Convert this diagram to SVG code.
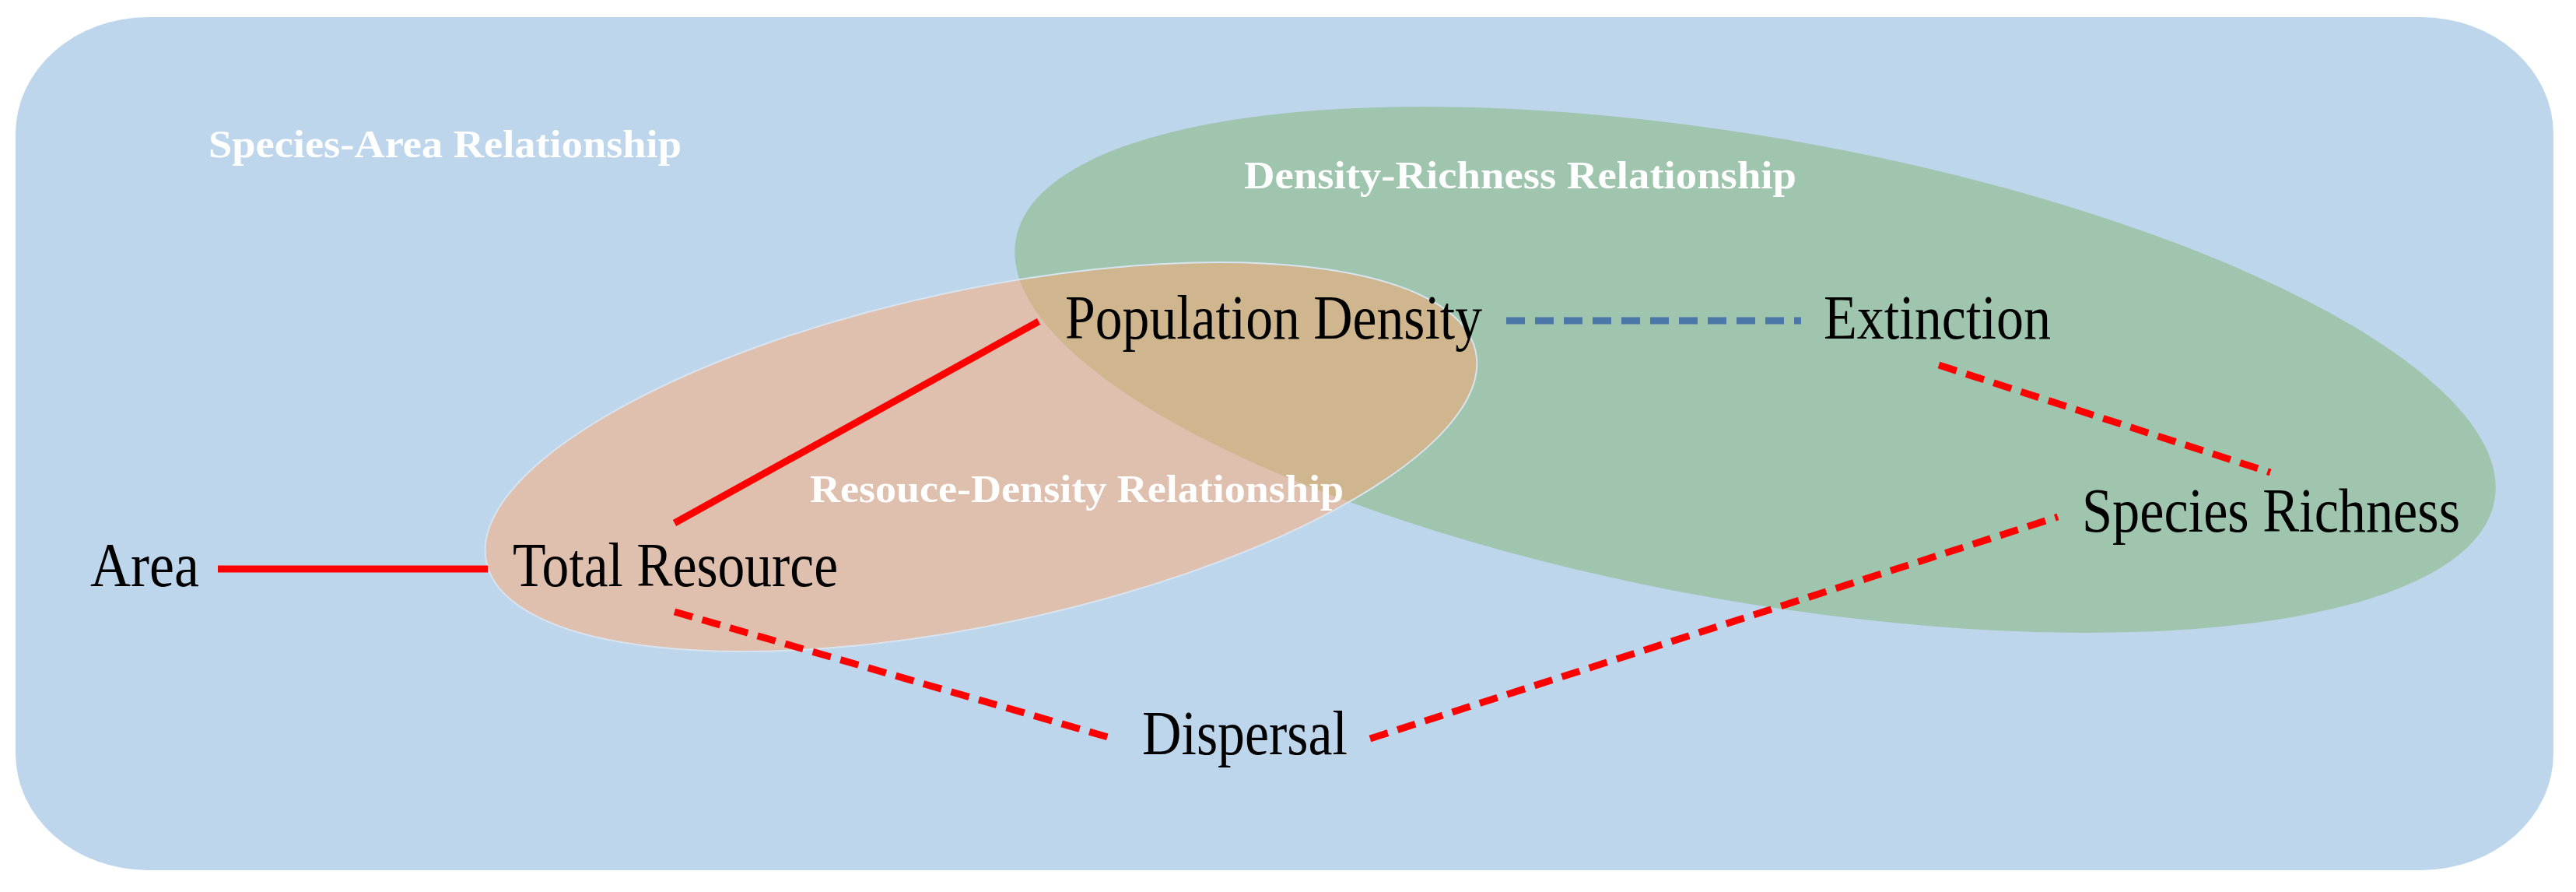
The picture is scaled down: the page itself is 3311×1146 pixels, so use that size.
<svg xmlns="http://www.w3.org/2000/svg" width="3311" height="1146" viewBox="0 0 3311 1146">
<style>
.lbl{font-family:"Liberation Serif",serif;font-size:80px;fill:#000}
.reg{font-family:"Liberation Serif",serif;font-size:50px;font-weight:bold;fill:#fff}
.red{stroke:#ff0000;stroke-width:9;fill:none}
.dash{stroke-dasharray:24,13}
</style>
<rect width="3311" height="1146" fill="#fff"/>
<rect x="20" y="22" width="3262" height="1096" rx="170" ry="150" fill="#bed6ec"/>
<ellipse cx="2256" cy="475" rx="965" ry="298" transform="rotate(10 2256 475)" fill="#9fc5ae"/>
<ellipse cx="1261" cy="587" rx="650" ry="215" transform="rotate(-12 1261 587)" fill="#ffa86e" fill-opacity="0.5" stroke="#d8e4f0" stroke-width="2"/>
<text class="reg" x="268" y="202" textLength="608" lengthAdjust="spacingAndGlyphs">Species-Area Relationship</text>
<text class="reg" x="1599" y="242" textLength="710" lengthAdjust="spacingAndGlyphs">Density-Richness Relationship</text>
<text class="reg" x="1041" y="645" textLength="686" lengthAdjust="spacingAndGlyphs">Resouce-Density Relationship</text>
<g id="connectors">
<line class="red" x1="280" y1="731" x2="627" y2="731"/>
<line class="red" x1="867" y1="672" x2="1335" y2="413"/>
<line class="red dash" x1="867" y1="786" x2="1431" y2="949"/>
<line class="red dash" x1="2492" y1="469" x2="2918" y2="607"/>
<line class="red dash" x1="1761" y1="949" x2="2645" y2="664"/>
<line stroke="#4a76a8" stroke-width="9" class="dash" x1="1936" y1="412" x2="2315" y2="412"/>
</g>
<g id="area"><text class="lbl" x="116" y="753" textLength="140" lengthAdjust="spacingAndGlyphs">Area</text></g>
<g id="total-resource"><text class="lbl" x="659" y="753" textLength="418" lengthAdjust="spacingAndGlyphs">Total Resource</text></g>
<g id="population-density"><text class="lbl" x="1369" y="435" textLength="536" lengthAdjust="spacingAndGlyphs">Population Density</text></g>
<g id="extinction"><text class="lbl" x="2344" y="435" textLength="292" lengthAdjust="spacingAndGlyphs">Extinction</text></g>
<g id="species-richness"><text class="lbl" x="2676" y="683" textLength="486" lengthAdjust="spacingAndGlyphs">Species Richness</text></g>
<g id="dispersal"><text class="lbl" x="1468" y="969" textLength="264" lengthAdjust="spacingAndGlyphs">Dispersal</text></g>
</svg>
